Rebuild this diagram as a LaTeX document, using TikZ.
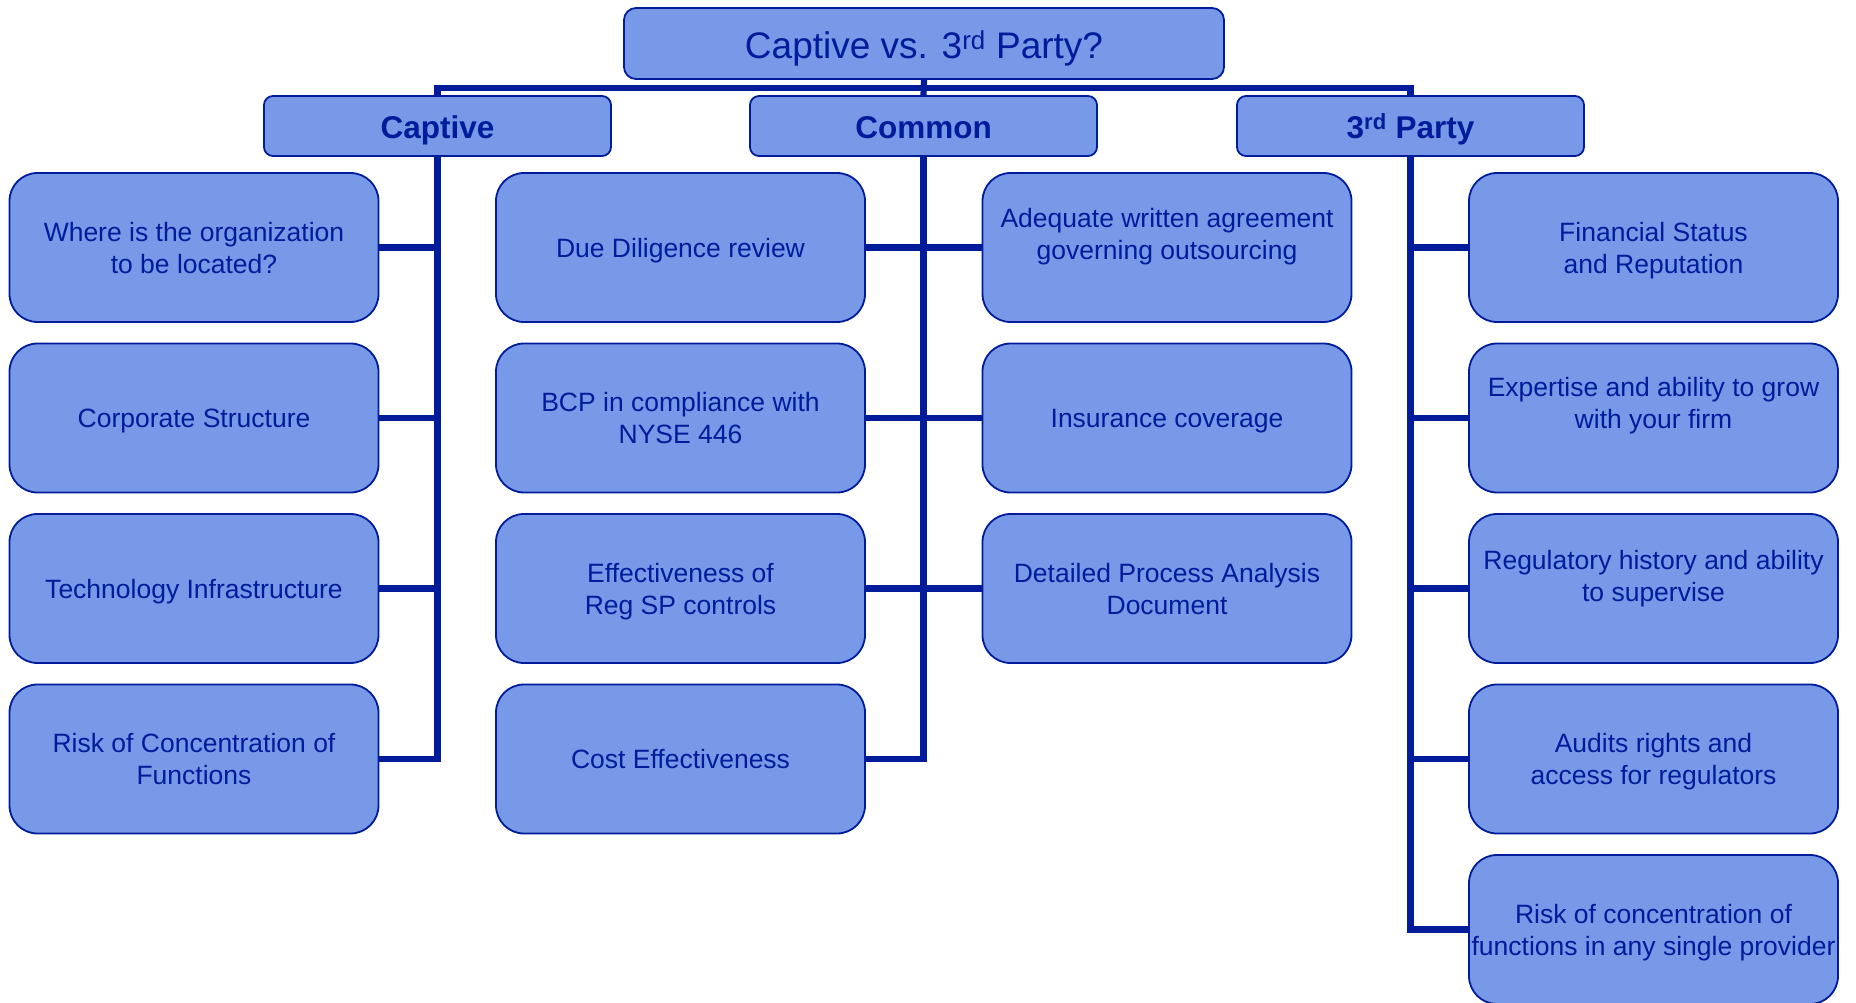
\documentclass[tikz,border=0pt]{standalone}
\usepackage{fontspec}
\setmainfont{Liberation Sans}
\definecolor{boxfill}{RGB}{119,153,232}
\definecolor{navy}{RGB}{0,28,155}
\begin{document}
\begin{tikzpicture}[x=1pt,y=-1pt,
  box/.style={draw=navy, fill=boxfill, line width=1.8pt, rounded corners=28pt,
    minimum width=369pt, minimum height=149pt, align=center, text=navy,
    font=\fontsize{26.5}{32}\selectfont, inner sep=0pt, text depth=0pt},
  head/.style={draw=navy, fill=boxfill, line width=1.8pt, rounded corners=9pt,
    minimum width=347pt, minimum height=60pt, text=navy,
    font=\fontsize{31.5}{36}\selectfont\bfseries, inner sep=0pt,
    text height=24.6pt, text depth=0pt},
  ttl/.style={draw=navy, fill=boxfill, line width=1.8pt, rounded corners=12pt,
    minimum width=600pt, minimum height=71pt, text=navy,
    font=\fontsize{37}{42}\selectfont, inner sep=0pt,
    text height=30.5pt, text depth=0pt},
  link/.style={draw=navy, line width=6.2pt, line join=miter}
]
\useasboundingbox (0,0) rectangle (1856,1003);
\clip (0,0) rectangle (1856,1003);

\node[ttl] (title) at (924,43.5) {Captive vs. 3\textsuperscript{rd} Party?};
\node[head] (cap) at (437.5,126) {Captive};
\node[head] (com) at (923.5,126) {Common};
\node[head] (tp) at (1410.5,126) {3\textsuperscript{rd} Party};

\node[box] (a1) at (194,247.5) {Where is the organization\\to be located?};
\node[box] (a2) at (194,418) {Corporate Structure};
\node[box] (a3) at (194,588.5) {Technology Infrastructure};
\node[box] (a4) at (194,759) {Risk of Concentration of\\Functions};

\node[box] (b1) at (680.5,247.5) {Due Diligence review};
\node[box] (b2) at (680.5,418) {BCP in compliance with\\NYSE 446};
\node[box] (b3) at (680.5,588.5) {Effectiveness of\\Reg SP controls};
\node[box] (b4) at (680.5,759) {Cost Effectiveness};

\node[box] (c1) at (1167,247.5) {Adequate written agreement\\governing outsourcing\\[-5pt]\mbox{}};
\node[box] (c2) at (1167,418) {Insurance coverage};
\node[box] (c3) at (1167,588.5) {Detailed Process Analysis\\Document};

\node[box] (d1) at (1653.5,247.5) {Financial Status\\and Reputation};
\node[box] (d2) at (1653.5,418) {Expertise and ability to grow\\with your firm\\[-2pt]\mbox{}};
\node[box] (d3) at (1653.5,588.5) {Regulatory history and ability\\to supervise\\[-7pt]\mbox{}};
\node[box] (d4) at (1653.5,759) {Audits rights and\\access for regulators};
\node[box] (d5) at (1653.5,929.5) {Risk of concentration of\\functions in any single provider};

\coordinate (bar) at (924,88);
\draw[link] (cap.north) -- (cap.north |- bar) -- (tp.north |- bar) -- (tp.north);
\draw[link] (title.south) -- (com.north);

\draw[link] (cap.south) -- (cap.south |- a4.east) -- (a4.east);
\foreach \i in {1,2,3} \draw[link] (a\i.east) -- (cap.south |- a\i.east);

\draw[link] (com.south) -- (com.south |- b4.east) -- (b4.east);
\foreach \i in {1,2,3} \draw[link] (b\i.east) -- (c\i.west);

\draw[link] (tp.south) -- (tp.south |- d5.west) -- (d5.west);
\foreach \i in {1,2,3,4} \draw[link] (tp.south |- d\i.west) -- (d\i.west);
\end{tikzpicture}
\end{document}
